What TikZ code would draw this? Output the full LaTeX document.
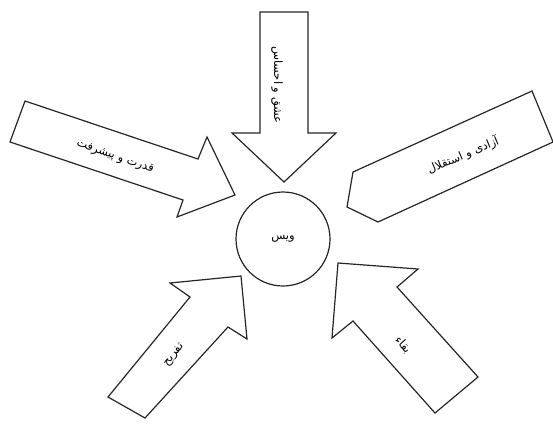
\documentclass[tikz,border=0pt]{standalone}
\usepackage{fontspec}
\newfontfamily\arabicfont[Script=Arabic]{DejaVu Sans}
\TeXXeTstate=1
\tikzset{
  blockarrow/.style={draw=black!85, line width=1.2pt, fill=white, line join=miter},
  lbl/.style={font=\arabicfont\fontsize{11.5}{13}\selectfont, inner sep=1pt},
  hub/.style={circle, draw=black!85, line width=1.2pt, minimum size=94pt, inner sep=0pt, font=\arabicfont\fontsize{11.5}{13}\selectfont}
}
\begin{document}
\begin{tikzpicture}[x=1pt,y=-1pt]
\useasboundingbox (0,0) rectangle (553,424);
% top arrow
\draw[blockarrow] (260,12) -- (308,12) -- (308,133) -- (336,133) -- (284,182) -- (232,133) -- (260,133) -- cycle;
% left arrow
\draw[blockarrow] (25,101) -- (198,159) -- (207,137) -- (235,195) -- (177,217) -- (183,200) -- (10,142) -- cycle;
% right arrow
\draw[blockarrow] (532,91) -- (553,142) -- (378,222) -- (347,207) -- (353,172) -- cycle;
% bottom-left arrow
\draw[blockarrow] (241,276) -- (170,283) -- (190,297) -- (108,397) -- (145,418) -- (228,327) -- (247,339) -- cycle;
% bottom-right arrow
\draw[blockarrow] (338,263) -- (418,269) -- (397,287) -- (478,377) -- (435,413) -- (353,321) -- (332,338) -- cycle;
% hub
\node[hub] (weis) at (283,239) {\beginR ویس\endR};
% labels
\node[lbl, rotate=-90] (love) at (277,85) {\beginR عشق و احساس\endR};
\node[lbl, rotate=-19] (power) at (115,157) {\beginR قدرت و پیشرفت\endR};
\node[lbl, rotate=23] (freedom) at (463,155) {\beginR آزادی و استقلال\endR};
\node[lbl, rotate=50] (fun) at (174,355) {\beginR تفریح\endR};
\node[lbl, rotate=-48] (survival) at (403,345) {\beginR بقاء\endR};
\end{tikzpicture}
\end{document}
